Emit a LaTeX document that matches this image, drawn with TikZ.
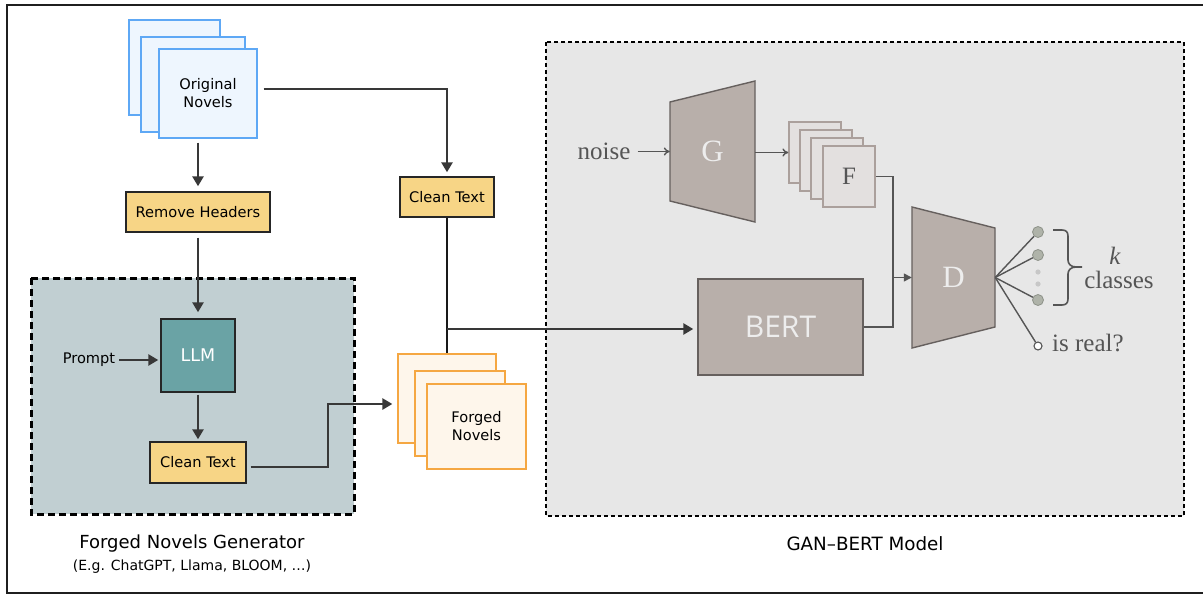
\documentclass[tikz,border=0pt]{standalone}
\usepackage{fontspec}
\newfontfamily\uisans{DejaVu Sans}
\newfontfamily\netsans{Open Sans}
\newfontfamily\rmlab{Liberation Serif}
\usetikzlibrary{arrows.meta,calc}

\definecolor{origfill}{HTML}{EEF6FE}
\definecolor{origline}{HTML}{5EA8F5}
\definecolor{forgfill}{HTML}{FEF6EB}
\definecolor{forgline}{HTML}{F5A742}
\definecolor{stepfill}{HTML}{F7D586}
\definecolor{genfill}{HTML}{C1CFD2}
\definecolor{llmfill}{HTML}{6AA3A5}
\definecolor{ganfill}{HTML}{E7E7E7}
\definecolor{netfill}{HTML}{B8AFAA}
\definecolor{netline}{HTML}{66605E}
\definecolor{fakefill}{HTML}{E3E0DF}
\definecolor{fakeline}{HTML}{ABA09C}
\definecolor{conncol}{HTML}{383838}
\definecolor{gancol}{HTML}{555555}
\definecolor{unitfill}{HTML}{AFB3A9}
\definecolor{unitline}{HTML}{8E9289}

\tikzset{
  sheetO/.style={draw=origline, fill=origfill, line width=1.3pt},
  sheetF/.style={draw=forgline, fill=forgfill, line width=1.3pt},
  sheetG/.style={draw=fakeline, fill=fakefill, line width=1.3pt},
  bodyfont/.style={font=\uisans\fontsize{14.6}{18}\selectfont},
  stepbox/.style={draw=black!85, fill=stepfill, line width=1.4pt, inner sep=0pt, bodyfont},
  conn/.style={draw=conncol, line width=2.8pt,
    -{Triangle[length=10pt,width=11pt]}},
  trunk/.style={draw=black!90, line width=2.8pt},
  gline/.style={draw=gancol, line width=1.4pt},
  garrow/.style={gline, -{To[length=6pt,width=8pt]}},
  gfill/.style={gline, -{Triangle[length=8pt,width=8pt]}},
  netlabel/.style={text=white!93!black, inner sep=0pt},
  serifgray/.style={text=gancol, inner sep=0pt, font=\rmlab\fontsize{25}{28}\selectfont},
  unit/.style={circle, draw=unitline, fill=unitfill, line width=0.8pt,
    minimum size=11pt, inner sep=0pt},
}

\begin{document}
\begin{tikzpicture}[x=1pt, y=-1pt]
\useasboundingbox (0,0) rectangle (1203,594);
\fill[white] (0,0) rectangle (1203,594);
\draw[line width=2.4pt, black!88] (7,5) rectangle (1205,593);

% ---------- dashed containers ----------
\draw[fill=genfill, draw=black, line width=3pt, dash pattern=on 7pt off 4pt]
  (31,278) rectangle (354,514);
\draw[fill=ganfill, draw=black, line width=2pt, dash pattern=on 4pt off 3pt]
  (546,42) rectangle (1184,516);

% ---------- original novels (stack of sheets) ----------
\draw[sheetO] (129,20) rectangle (220,115);
\draw[sheetO] (141,37) rectangle (245,132);
\node[sheetO, minimum width=98pt, minimum height=89pt, inner sep=0pt, align=center,
  bodyfont] (orig) at (208,93.5) {Original\\Novels};

% ---------- pre-processing ----------
\node[stepbox, minimum width=144pt, minimum height=40pt] (rh) at (198,212) {Remove Headers};
\node[stepbox, minimum width=94pt, minimum height=40pt] (ct1) at (447,197) {Clean Text};

% ---------- generator ----------
\node[draw=black!85, fill=llmfill, line width=1.4pt, minimum width=74pt, minimum height=73pt,
  text=white, font=\uisans\fontsize{17.5}{20}\selectfont] (llm) at (198,355.5) {LLM};
\node[inner sep=0pt, bodyfont] (prompt) at (89,360) {Prompt};
\node[stepbox, minimum width=96pt, minimum height=41pt] (ct2) at (198,462.5) {Clean Text};

% ---------- forged novels (stack of sheets) ----------
\node[sheetF, minimum width=98pt, minimum height=89pt, inner sep=0pt] (fb) at (447,398.5) {};
\draw[sheetF] (415,371) rectangle (505,456);
\node[sheetF, minimum width=99pt, minimum height=85pt, inner sep=0pt, align=center,
  bodyfont] (forged) at (476.5,426.5) {Forged\\Novels};

% ---------- connectors on the left ----------
\draw[conn, shorten <=4pt, shorten >=5pt] (orig.south -| rh.north) -- (rh.north);
\draw[conn, shorten <=6pt, shorten >=4pt] ($(orig.east)+(0,-4.5)$) -| (ct1.north);
\draw[conn, shorten <=5pt, shorten >=6pt] (rh.south) -- (llm.north);
\draw[conn, shorten <=4pt, shorten >=2pt] (prompt.east) -- (prompt.east -| llm.west);
\draw[conn, shorten <=2pt, shorten >=2pt] (llm.south) -- (ct2.north);
\coordinate (k1) at (328,404);
\draw[conn, shorten >=5pt] ($(ct2.east)+(4,4.5)$) -| (k1) -- (fb.west |- k1);
\draw[trunk] (ct1.south) -- (fb.north);
\coordinate (br) at (447,329);

% ---------- GAN-BERT ----------
\node[draw=netline, fill=netfill, line width=1.4pt, minimum width=165pt, minimum height=96pt,
  netlabel, font=\netsans\fontsize{30}{32}\selectfont] (bert) at (780.5,327) {BERT};
\draw[conn, line width=2.5pt, shorten >=4pt] (br) -- (bert.west |- br);

\filldraw[fill=netfill, draw=netline, line width=1.4pt]
  (670,102) -- (755,81) -- (755,222) -- (670,201) -- cycle;
\node[minimum width=85pt, minimum height=141pt, netlabel,
  font=\rmlab\fontsize{31}{32}\selectfont] (G) at (712.5,151.5) {G};
\node[serifgray] (noise) at (604,151) {noise};
\draw[garrow, shorten <=7pt] (noise.east |- G.west) -- (G.west);

\draw[sheetG] (789,122) rectangle (841,183);
\node[sheetG, minimum width=52pt, minimum height=61pt, inner sep=0pt] (f1) at (815,152.5) {};
\draw[sheetG] (800,130) rectangle (852,191);
\draw[sheetG] (811,138) rectangle (863,199);
\node[sheetG, minimum width=52pt, minimum height=61pt, inner sep=0pt,
  text=gancol, font=\rmlab\fontsize{25}{28}\selectfont] (ff) at (849,176.5) {F};
\draw[garrow] (G.east |- f1.west) -- (f1.west);

\filldraw[fill=netfill, draw=netline, line width=1.4pt]
  (912,207) -- (995,228) -- (995,327) -- (912,348) -- cycle;
\node[minimum width=83pt, minimum height=141pt, netlabel,
  font=\rmlab\fontsize{31}{32}\selectfont] (D) at (953.5,277.5) {D};

\coordinate (j1) at (893,277.5);
\draw[gfill] (ff.east) -| (j1) -- (D.west);
\draw[gline] (bert.east) -| (j1);

% ---------- discriminator outputs ----------
\node[unit] (c1) at (1038,232) {};
\node[unit] (c2) at (1038,255) {};
\node[unit] (c3) at (1038,300) {};
\fill[black!22] (1038,272) circle (2.6pt);
\fill[black!22] (1038,284) circle (2.6pt);
\node[circle, draw=gancol, fill=white, line width=1.1pt, minimum size=8pt, inner sep=0pt]
  (cr) at (1038,346) {};
\foreach \u in {c1,c2,c3,cr} \draw[gline] (D.east) -- (\u);

\draw[gline, line width=1.6pt]
  (1053,230) -- (1062,230) .. controls (1066,230) and (1068,232) .. (1068,236)
  -- (1068,260) .. controls (1068,264) and (1071,267) .. (1076,267) -- (1082,267);
\draw[gline, line width=1.6pt]
  (1076,267) .. controls (1071,267) and (1068,270) .. (1068,274)
  -- (1068,299) .. controls (1068,303) and (1066,305) .. (1062,305) -- (1053,305);
\node[serifgray, font=\rmlab\itshape\fontsize{25}{28}\selectfont] (kk) at (1115,256) {k};
\node[serifgray] (cls) at (1119,280) {classes};
\node[serifgray, anchor=west] (real) at (1052,343) {is real?};

% ---------- captions ----------
\node[inner sep=0pt, font=\uisans\fontsize{18}{21}\selectfont] (capgen) at (192,544)
  {Forged Novels Generator};
\node[inner sep=0pt, font=\uisans\fontsize{14}{17}\selectfont] (capex) at (192,567)
  {(E.g. ChatGPT, Llama, BLOOM, …)};
\node[inner sep=0pt, font=\uisans\fontsize{18.3}{21}\selectfont] (capgan) at (865,544)
  {GAN–BERT Model};
\end{tikzpicture}
\end{document}
